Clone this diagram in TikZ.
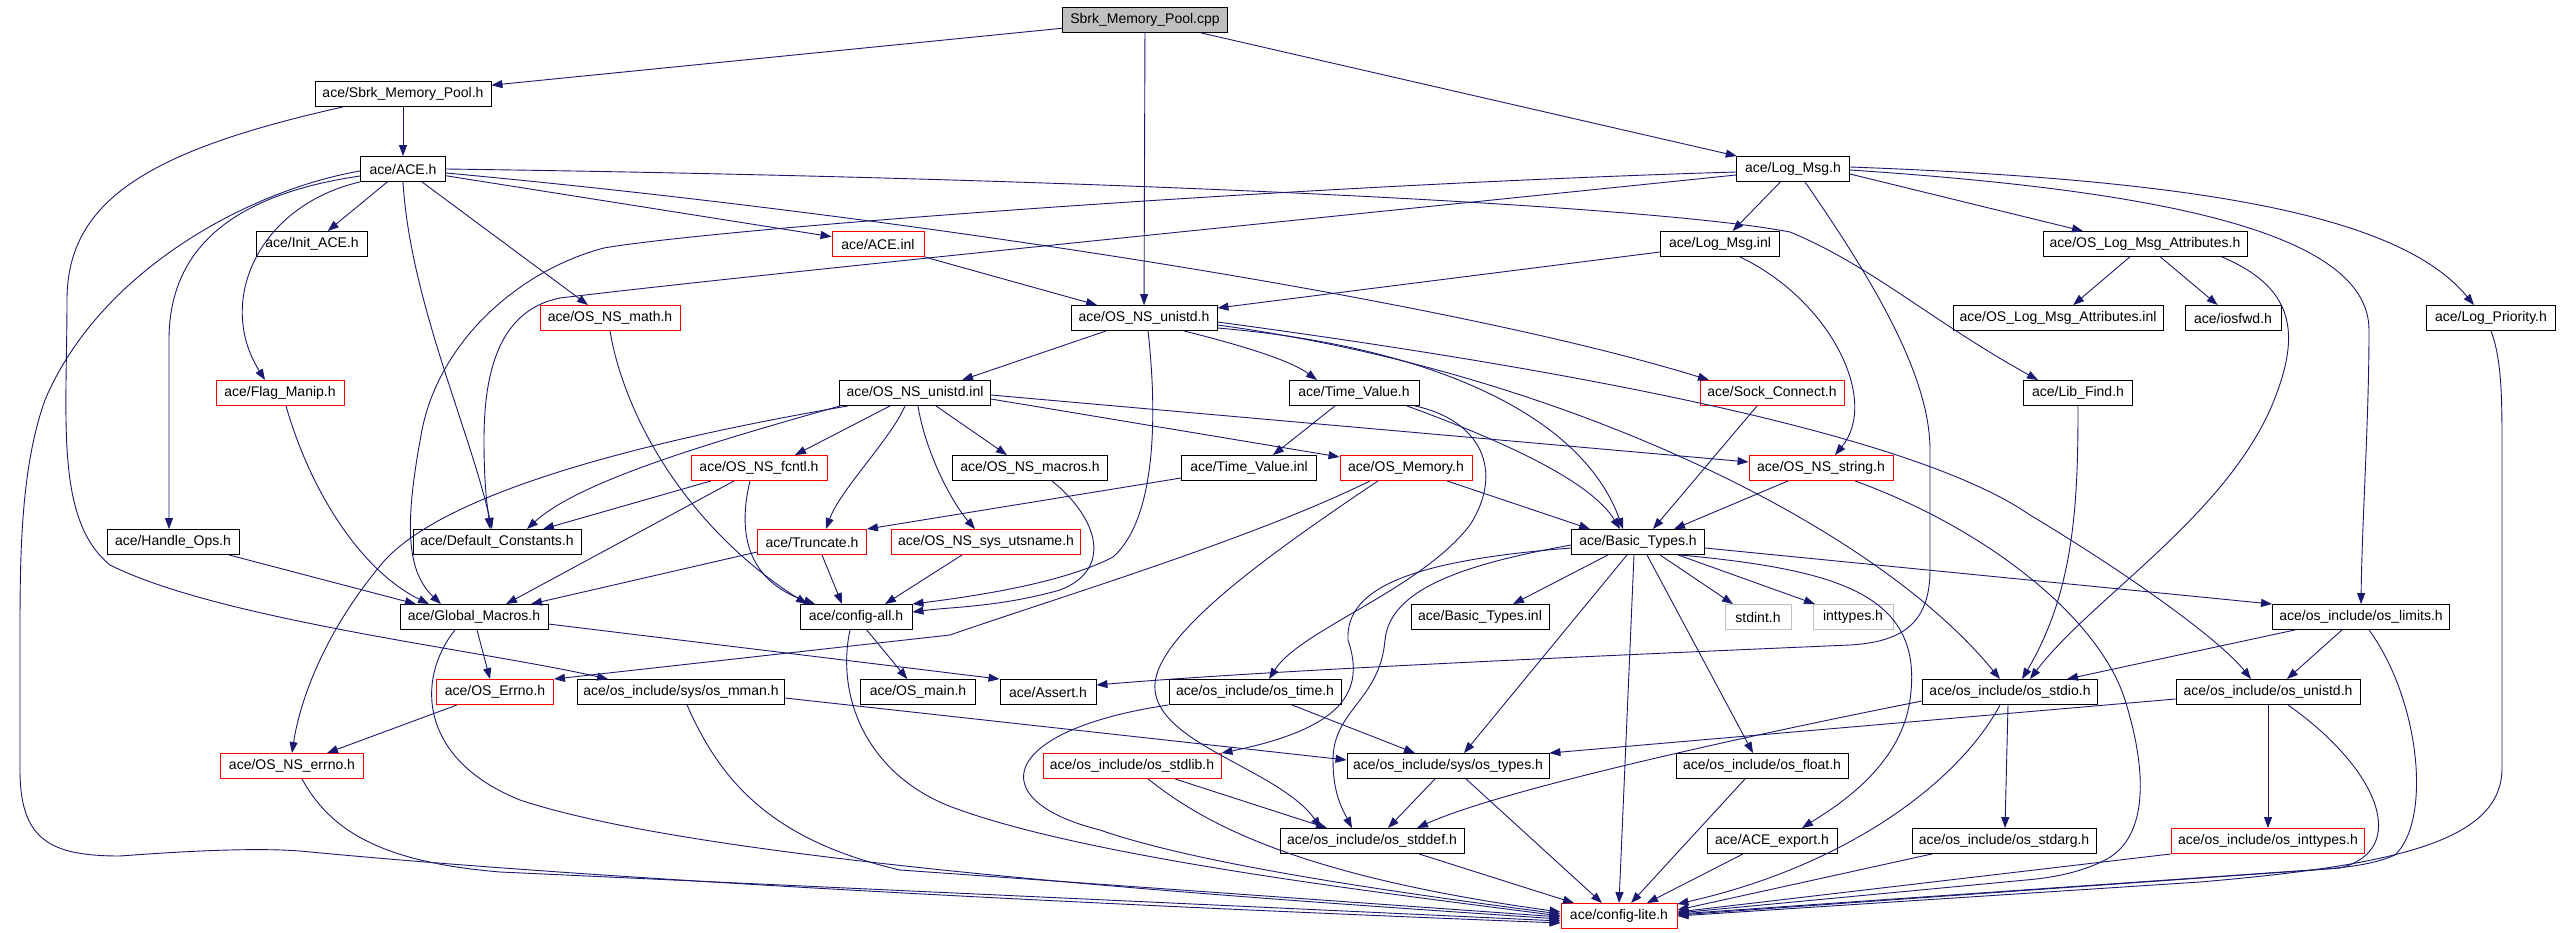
\documentclass[tikz,border=0pt]{standalone}
\usepackage{fontspec}
\setmainfont{Liberation Sans}
\usetikzlibrary{arrows.meta}
\definecolor{edgec}{HTML}{191970}
\definecolor{rootfill}{HTML}{BFBFBF}
\definecolor{extc}{HTML}{BFBFBF}
\tikzset{
  nb/.style={draw=black, line width=0.9pt, minimum height=25pt, inner xsep=1pt, inner ysep=0pt,
             font=\fontsize{14}{16}\selectfont, text=black, anchor=center},
  rb/.style={nb, draw=red},
  gb/.style={nb, draw=extc},
  e/.style={draw=edgec, line width=0.9pt, -{Triangle[length=11pt,width=8pt]}}
}
\begin{document}
\begin{tikzpicture}[x=1pt,y=-1pt]
\fill[white] (0,0) rectangle (2560,933);
\useasboundingbox (0,0) rectangle (2560,933);
% ---------------- nodes
\node[nb, fill=rootfill, minimum width=165pt] (cpp) at (1145,20) {Sbrk\_Memory\_Pool.cpp};
\node[nb, minimum width=176pt] (sbrk) at (403,94) {ace/Sbrk\_Memory\_Pool.h};
\node[nb, minimum width=85pt] (ace) at (403,169) {ace/ACE.h};
\node[nb, minimum width=111pt] (init) at (312,244) {ace/Init\_ACE.h};
\node[rb, minimum width=92pt] (aceinl) at (878,244) {ace/ACE.inl};
\node[nb, minimum width=146pt] (unistd) at (1144,318) {ace/OS\_NS\_unistd.h};
\node[nb, minimum width=113pt] (logmsg) at (1793,169) {ace/Log\_Msg.h};
\node[nb, minimum width=119pt] (logmsginl) at (1720,244) {ace/Log\_Msg.inl};
\node[nb, minimum width=204pt] (attr) at (2145,244) {ace/OS\_Log\_Msg\_Attributes.h};
\node[nb, minimum width=210pt] (attrinl) at (2058,318) {ace/OS\_Log\_Msg\_Attributes.inl};
\node[nb, minimum width=96pt] (iosfwd) at (2233,318) {ace/iosfwd.h};
\node[nb, minimum width=129pt] (logprio) at (2491,318) {ace/Log\_Priority.h};
\node[nb, minimum width=109pt] (libfind) at (2078,393) {ace/Lib\_Find.h};
\node[rb, minimum width=144pt] (sock) at (1772,393) {ace/Sock\_Connect.h};
\node[nb, minimum width=130pt] (tvh) at (1354,393) {ace/Time\_Value.h};
\node[nb, minimum width=151pt] (unistdinl) at (915,393) {ace/OS\_NS\_unistd.inl};
\node[rb, minimum width=140pt] (math) at (610,318) {ace/OS\_NS\_math.h};
\node[rb, minimum width=128pt] (flag) at (280,393) {ace/Flag\_Manip.h};
\node[nb, minimum width=132pt] (handle) at (173,542) {ace/Handle\_Ops.h};
\node[nb, minimum width=168pt] (defconst) at (497,542) {ace/Default\_Constants.h};
\node[nb, minimum width=148pt] (global) at (474,617) {ace/Global\_Macros.h};
\node[rb, minimum width=136pt] (fcntl) at (759,468) {ace/OS\_NS\_fcntl.h};
\node[nb, minimum width=155pt] (macros) at (1030,468) {ace/OS\_NS\_macros.h};
\node[nb, minimum width=135pt] (tvinl) at (1249,468) {ace/Time\_Value.inl};
\node[rb, minimum width=132pt] (osmem) at (1406,468) {ace/OS\_Memory.h};
\node[rb, minimum width=144pt] (nsstring) at (1821,468) {ace/OS\_NS\_string.h};
\node[rb, minimum width=109pt] (trunc) at (812,542) {ace/Truncate.h};
\node[rb, minimum width=189pt] (utsname) at (986,542) {ace/OS\_NS\_sys\_utsname.h};
\node[nb, minimum width=133pt] (basic) at (1638,542) {ace/Basic\_Types.h};
\node[nb, minimum width=112pt] (cfgall) at (856,617) {ace/config-all.h};
\node[nb, minimum width=138pt] (basicinl) at (1480,617) {ace/Basic\_Types.inl};
\node[gb, minimum width=66pt] (stdint) at (1758,617) {stdint.h};
\node[gb, minimum width=80pt] (inttypes) at (1853,617) {inttypes.h};
\node[nb, minimum width=177pt] (limits) at (2361,617) {ace/os\_include/os\_limits.h};
\node[rb, minimum width=117pt] (errno) at (495,692) {ace/OS\_Errno.h};
\node[nb, minimum width=207pt] (mman) at (681,692) {ace/os\_include/sys/os\_mman.h};
\node[nb, minimum width=115pt] (osmain) at (918,692) {ace/OS\_main.h};
\node[nb, minimum width=96pt] (assert) at (1048,692) {ace/Assert.h};
\node[nb, minimum width=172pt] (ostime) at (1255,692) {ace/os\_include/os\_time.h};
\node[nb, minimum width=175pt] (stdio) at (2010,692) {ace/os\_include/os\_stdio.h};
\node[nb, minimum width=184pt] (osunistd) at (2268,692) {ace/os\_include/os\_unistd.h};
\node[rb, minimum width=143pt] (nserrno) at (292,766) {ace/OS\_NS\_errno.h};
\node[rb, minimum width=178pt] (stdlib) at (1132,766) {ace/os\_include/os\_stdlib.h};
\node[nb, minimum width=202pt] (types) at (1448,766) {ace/os\_include/sys/os\_types.h};
\node[nb, minimum width=172pt] (float) at (1762,766) {ace/os\_include/os\_float.h};
\node[nb, minimum width=184pt] (stddef) at (1372,841) {ace/os\_include/os\_stddef.h};
\node[nb, minimum width=130pt] (export) at (1772,841) {ace/ACE\_export.h};
\node[nb, minimum width=184pt] (stdarg) at (2004,841) {ace/os\_include/os\_stdarg.h};
\node[rb, minimum width=193pt] (inttypesh) at (2268,841) {ace/os\_include/os\_inttypes.h};
\node[rb, minimum width=116pt] (lite) at (1619,916) {ace/config-lite.h};
% ---------------- edges
% root
\draw[e] (cpp) -- (sbrk);
\draw[e] (cpp) -- (unistd);
\draw[e] (cpp) -- (logmsg);
% Sbrk_Memory_Pool.h
\draw[e] (sbrk) -- (ace);
\draw[e] ([xshift=-60pt]sbrk.south) .. controls (150,150) and (67,200) .. (67,300) .. controls (67,420) and (55,520) .. (110,565) .. controls (220,620) and (480,650) .. ([xshift=-73pt]mman.north);
% ACE.h
\draw[e] (ace) -- (init);
\draw[e] (ace.south) .. controls (410,300) and (470,430) .. ([xshift=-5pt]defconst.north);
\draw[e] ([xshift=19pt]ace.south) -- ([xshift=-22pt]math.north);
\draw[e] (ace) -- (aceinl);
\draw[e] (ace.south west) .. controls (260,205) and (215,300) .. ([xshift=-15pt]flag.north);
\draw[e] ([yshift=-7pt]ace.west) .. controls (230,195) and (169,250) .. (169,340) -- ([xshift=-4pt]handle.north);
\draw[e] ([yshift=-2pt]ace.west) .. controls (250,190) and (100,270) .. (45,400) .. controls (20,470) and (20,560) .. (20,640) -- (20,770) .. controls (20,840) and (50,856) .. (120,856) .. controls (200,850) and (260,848) .. (300,851) .. controls (600,880) and (1100,905) .. ([yshift=-7pt]lite.west);
\draw[e] (ace.east) .. controls (1100,178) and (1650,205) .. (1790,232) .. controls (1870,265) and (1930,320) .. ([xshift=-40pt]libfind.north);
\draw[e] ([yshift=-4pt]ace.east) .. controls (900,215) and (1450,300) .. ([xshift=-63pt]sock.north);
% ACE.inl
\draw[e] (aceinl) -- ([xshift=-47pt]unistd.north);
% Log_Msg.h
\draw[e] (logmsg) -- (logmsginl);
\draw[e] ([yshift=-5pt]logmsg.east) -- ([xshift=-62pt]attr.north);
\draw[e] ([yshift=2pt]logmsg.east) .. controls (2200,180) and (2400,215) .. ([xshift=-17pt]logprio.north);
\draw[e] ([yshift=-1pt]logmsg.east) .. controls (2150,190) and (2369,230) .. (2369,330) .. controls (2369,420) and (2362,520) .. (limits.north);
\draw[e] ([xshift=12pt]logmsg.south) .. controls (1880,290) and (1930,380) .. (1930,450) -- (1930,570) .. controls (1930,625) and (1900,642) .. (1850,645) .. controls (1500,660) and (1250,672) .. ([yshift=7pt]assert.east);
\draw[e] ([yshift=-3pt]logmsg.west) .. controls (1300,185) and (720,228) .. (604,248) .. controls (520,270) and (440,340) .. (422,430) .. controls (405,520) and (405,570) .. ([xshift=-33pt]global.north);
\draw[e] ([yshift=-6pt]logmsg.west) .. controls (1300,220) and (750,275) .. (560,298) .. controls (500,310) and (484,370) .. (484,440) .. controls (484,490) and (488,510) .. ([xshift=-7pt]defconst.north);
% Log_Msg.inl
\draw[e] ([yshift=-8pt]logmsginl.west) -- ([yshift=10pt]unistd.east);
\draw[e] ([xshift=20pt]logmsginl.south) .. controls (1830,300) and (1880,400) .. ([xshift=14pt]nsstring.north);
% OS_Log_Msg_Attributes.h
\draw[e] (attr) -- (attrinl);
\draw[e] (attr) -- (iosfwd);
\draw[e] ([xshift=77pt]attr.south) .. controls (2300,290) and (2300,340) .. (2270,410) .. controls (2220,520) and (2090,600) .. ([xshift=20pt]stdio.north);
% Log_Priority.h
\draw[e] (logprio.south) .. controls (2502,360) and (2502,400) .. (2502,450) -- (2502,770) .. controls (2500,840) and (2400,865) .. (2200,882) -- (lite.east);
% Lib_Find.h
\draw[e] (libfind.south) .. controls (2078,500) and (2075,590) .. ([xshift=12pt]stdio.north);
% OS_NS_math.h
\draw[e] (math.south) .. controls (625,420) and (690,530) .. ([xshift=-49pt]cfgall.north);
% OS_NS_unistd.h
\draw[e] (unistd) -- ([xshift=47pt]unistdinl.north);
\draw[e] ([xshift=4pt]unistd.south) .. controls (1158,420) and (1155,520) .. (1113,557) .. controls (1060,585) and (960,598) .. (cfgall.north east);
\draw[e] ([xshift=40pt]unistd.south) .. controls (1240,345) and (1290,360) .. ([xshift=-37pt]tvh.north);
\draw[e] ([yshift=-10pt]unistd.east) .. controls (1420,345) and (1580,410) .. ([xshift=-15pt]basic.north);
\draw[e] ([yshift=-7pt]unistd.east) .. controls (1550,370) and (1870,520) .. ([xshift=-10pt]stdio.north);
\draw[e] ([yshift=-4pt]unistd.east) .. controls (1500,360) and (1900,425) .. (2030,515) .. controls (2130,575) and (2220,640) .. ([xshift=-17pt]osunistd.north);
% OS_NS_unistd.inl
\draw[e] (unistdinl) -- ([xshift=36pt]fcntl.north);
\draw[e] ([xshift=-10pt]unistdinl.south) .. controls (890,440) and (840,490) .. ([xshift=14pt]trunc.north);
\draw[e] ([xshift=3pt]unistdinl.south) .. controls (925,450) and (950,500) .. ([xshift=-11pt]utsname.north);
\draw[e] ([xshift=21pt]unistdinl.south) -- ([xshift=-23pt]macros.north);
\draw[e] ([yshift=-6pt]unistdinl.east) -- ([yshift=11pt]osmem.west);
\draw[e] ([yshift=-2pt]unistdinl.east) -- ([yshift=6pt]nsstring.west);
\draw[e] ([xshift=-67pt]unistdinl.south) .. controls (650,440) and (450,490) .. (385,560) .. controls (325,630) and (300,700) .. (nserrno.north);
\draw[e] ([xshift=-75pt]unistdinl.south) .. controls (720,440) and (580,480) .. ([xshift=30pt]defconst.north);
% OS_NS_fcntl.h
\draw[e] ([xshift=-48pt]fcntl.south) -- ([xshift=46pt]defconst.north);
\draw[e] ([xshift=-25pt]fcntl.south) -- ([xshift=32pt]global.north);
\draw[e] ([xshift=-9pt]fcntl.south) .. controls (738,530) and (745,580) .. ([xshift=-41pt]cfgall.north);
% Flag_Manip.h, Handle_Ops.h
\draw[e] ([xshift=6pt]flag.south) .. controls (310,490) and (360,570) .. ([xshift=-45pt]global.north);
\draw[e] ([xshift=56pt]handle.south) -- ([xshift=-58pt]global.north);
% Truncate.h, utsname, macros
\draw[e] ([yshift=-10pt]trunc.west) -- ([xshift=57pt]global.north);
\draw[e] ([xshift=10pt]trunc.south) -- ([xshift=-14pt]cfgall.north);
\draw[e] ([xshift=-24pt]utsname.south) -- ([xshift=29pt]cfgall.north);
\draw[e] ([xshift=22pt]macros.south) .. controls (1100,520) and (1112,570) .. (1060,590) .. controls (1000,607) and (950,607) .. ([yshift=-8pt]cfgall.north east);
% Time_Value
\draw[e] ([yshift=-10pt]tvinl.west) -- (trunc.north east);
\draw[e] ([xshift=-19pt]tvh.south) -- ([xshift=24pt]tvinl.north);
\draw[e] ([xshift=53pt]tvh.south) .. controls (1500,440) and (1590,480) .. ([xshift=-18pt]basic.north);
\draw[e] ([xshift=61pt]tvh.south) .. controls (1480,420) and (1505,470) .. (1470,525) .. controls (1420,590) and (1300,630) .. ([xshift=14pt]ostime.north);
% OS_Memory.h
\draw[e] ([xshift=41pt]osmem.south) -- ([xshift=-48pt]basic.north);
\draw[e] ([xshift=-36pt]osmem.south) .. controls (1250,540) and (1050,600) .. (950,635) -- (errno.north east);
\draw[e] ([xshift=-28pt]osmem.south) .. controls (1260,560) and (1150,640) .. (1155,690) .. controls (1160,745) and (1280,770) .. ([xshift=-51pt]stddef.north);
% Sock_Connect.h, OS_NS_string.h
\draw[e] ([xshift=-15pt]sock.south) -- ([xshift=15pt]basic.north);
\draw[e] ([xshift=-33pt]nsstring.south) -- ([xshift=36pt]basic.north);
\draw[e] ([xshift=34pt]nsstring.south) .. controls (1990,530) and (2100,620) .. (2125,700) .. controls (2150,780) and (2145,840) .. (2105,860) .. controls (2080,873) and (2050,878) .. (2026,880) -- ([yshift=3pt]lite.east);
% Basic_Types.h
\draw[e] ([xshift=-30pt]basic.south) -- ([xshift=33pt]basicinl.north);
\draw[e] ([xshift=22pt]basic.south) -- ([xshift=-25pt]stdint.north);
\draw[e] ([xshift=40pt]basic.south) -- ([xshift=-38pt]inttypes.north);
\draw[e] ([yshift=-6pt]basic.east) -- (limits.north west);
\draw[e] ([xshift=42pt]basic.south) .. controls (1840,570) and (1925,595) .. (1910,700) .. controls (1900,770) and (1830,810) .. ([xshift=30pt]export.north);
\draw[e] ([xshift=-4pt]basic.south) -- (lite.north);
\draw[e] ([xshift=9pt]basic.south) -- ([xshift=-9pt]float.north);
\draw[e] ([xshift=-11pt]basic.south) -- ([xshift=16pt]types.north);
\draw[e] ([yshift=-6pt]basic.west) .. controls (1420,560) and (1345,585) .. (1348,640) .. controls (1365,690) and (1345,728) .. (stdlib.north east);
\draw[e] ([yshift=-3pt]basic.west) .. controls (1460,565) and (1390,590) .. (1385,640) .. controls (1380,700) and (1333,710) .. (1333,760) .. controls (1333,790) and (1340,805) .. ([xshift=-20pt]stddef.north);
% os_limits.h
\draw[e] ([xshift=-66pt]limits.south) -- ([xshift=57pt]stdio.north);
\draw[e] ([xshift=-19pt]limits.south) -- ([xshift=19pt]osunistd.north);
\draw[e] ([xshift=8pt]limits.south) .. controls (2420,700) and (2432,820) .. (2395,855) .. controls (2370,866) and (2340,868) .. (2300,871) -- ([yshift=1pt]lite.east);
% os_stdio.h
\draw[e] ([xshift=-2pt]stdio.south) -- ([xshift=1pt]stdarg.north);
\draw[e] ([xshift=-10pt]stdio.south) .. controls (1960,780) and (1850,865) .. ([yshift=-1pt]lite.north east);
\draw[e] ([yshift=-9pt]stdio.west) .. controls (1750,735) and (1500,790) .. ([xshift=45pt]stddef.north);
% os_unistd.h
\draw[e] ([yshift=-7pt]osunistd.west) -- (types.north east);
\draw[e] (osunistd) -- (inttypesh);
\draw[e] ([xshift=20pt]osunistd.south) .. controls (2380,770) and (2410,850) .. (2340,868) -- ([yshift=2pt]lite.east);
% lower row into config-lite.h
\draw[e] ([xshift=-72pt]stdarg.south) -- ([yshift=6pt]lite.east);
\draw[e] ([xshift=-97pt]inttypesh.south) -- ([yshift=4pt]lite.east);
\draw[e] ([xshift=-29pt]export.south) -- ([xshift=28pt]lite.north);
\draw[e] ([xshift=-17pt]float.south) -- ([xshift=12pt]lite.north);
\draw[e] ([xshift=47pt]stddef.south) -- ([xshift=-45pt]lite.north);
\draw[e] ([xshift=18pt]types.south) -- ([xshift=-17pt]lite.north);
\draw[e] ([xshift=-13pt]types.south) -- ([xshift=16pt]stddef.north);
\draw[e] ([xshift=43pt]stdlib.south) -- ([xshift=-45pt]stddef.north);
\draw[e] ([xshift=16pt]stdlib.south) .. controls (1200,820) and (1290,875) .. ([yshift=4pt]lite.west);
\draw[e] ([xshift=37pt]ostime.south) -- ([xshift=-33pt]types.north);
\draw[e] (ostime.south west) .. controls (1000,730) and (980,800) .. (1100,830) .. controls (1200,865) and (1400,893) .. ([yshift=2pt]lite.west);
\draw[e] ([yshift=-6pt]mman.east) -- ([yshift=6pt]types.west);
\draw[e] ([xshift=6pt]mman.south) .. controls (720,780) and (770,840) .. (900,870) -- ([yshift=-1pt]lite.west);
\draw[e] (cfgall) -- (osmain);
\draw[e] ([xshift=-6pt]cfgall.south) .. controls (835,700) and (870,780) .. (960,810) .. controls (1100,860) and (1400,895) .. (lite.west);
% Global_Macros.h, errno
\draw[e] ([xshift=3pt]global.south) -- ([xshift=-5pt]errno.north);
\draw[e] ([yshift=-7pt]global.east) -- (assert.north west);
\draw[e] ([xshift=-19pt]global.south) .. controls (415,680) and (420,760) .. (520,800) .. controls (700,860) and (1200,895) .. ([yshift=-3pt]lite.west);
\draw[e] ([xshift=-38pt]errno.south) -- ([xshift=35pt]nserrno.north);
\draw[e] ([xshift=10pt]nserrno.south) .. controls (330,830) and (380,862) .. (500,872) -- ([yshift=-5pt]lite.west);
\end{tikzpicture}
\end{document}
